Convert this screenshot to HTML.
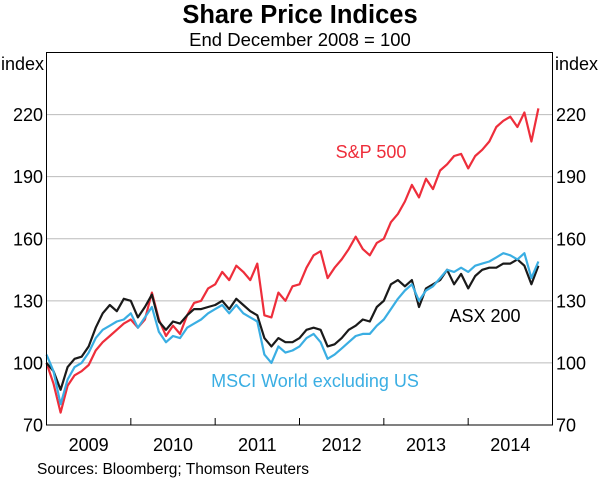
<!DOCTYPE html>
<html><head><meta charset="utf-8"><style>
body{margin:0;background:#fff;}
svg text{font-family:"Liberation Sans",Arial,sans-serif;}
</style></head><body>
<svg id="chart" width="600" height="479" viewBox="0 0 600 479" xmlns="http://www.w3.org/2000/svg">
<text x="300" y="23" text-anchor="middle" font-size="25.5" font-weight="bold">Share Price Indices</text>
<text x="300" y="46" text-anchor="middle" font-size="18.5">End December 2008 = 100</text>
<text x="1" y="70" font-size="18">index</text>
<text x="555" y="70" font-size="18">index</text>
<g id="grid"></g><g id="ticks"></g><g id="series"></g>
<rect x="46.5" y="52.5" width="506" height="372.5" fill="none" stroke="#000" stroke-width="1"/>
<text x="371" y="158" text-anchor="middle" font-size="18" fill="#ee2e3b">S&amp;P 500</text>
<text x="485" y="322" text-anchor="middle" font-size="18" fill="#000">ASX 200</text>
<text x="315" y="387" text-anchor="middle" font-size="18" fill="#3aaee3">MSCI World excluding US</text>
<text x="37" y="474" font-size="15.5">Sources:  Bloomberg; Thomson Reuters</text>
</svg>
<script>
const yTicks=[70,100,130,160,190,220];
const years=[2009,2010,2011,2012,2013,2014];
const sp500=[100,90,76,89,94,96,99,106,110,113,116,119,121,117,121,134,121,113,118,114,123,129,130,136,138,144,140,147,144,140,148,123,122,134,130,137,138,146,152,154,141,146,150,155,161,155,152,158,160,168,172,178,186,180,189,184,193,196,200,201,194,200,203,207,214,217,219,214,221,207,223];
const asx200=[100,96,87,98,102,103,108,117,124,128,125,131,130,122,127,133,120,116,120,119,123,126,126,127,128,130,126,131,128,125,123,112,108,112,110,110,112,116,117,116,108,109,112,116,118,121,120,127,130,138,140,137,140,127,136,138,140,145,138,143,136,142,145,146,146,148,148,150,147,138,147];
const msci=[104,96,80,92,98,100,105,112,116,118,120,121,124,117,122,127,115,110,113,112,117,119,121,124,126,128,124,128,124,122,120,104,100,108,105,106,108,112,114,110,102,104,107,110,113,114,114,118,121,126,131,135,138,130,135,137,141,145,144,146,144,147,148,149,151,153,152,150,153,141,149];
const X0=46.5,X1=552.5,Y0=425,Y1=52.5;
const xs=t=>X0+(t-2009)/6*(X1-X0);
const ys=v=>Y0-(v-70)/(250-70)*(Y0-Y1);
const NS="http://www.w3.org/2000/svg";
const grid=document.getElementById('grid'),ticks=document.getElementById('ticks'),ser=document.getElementById('series');
function mk(tag,attrs,parent){const e=document.createElementNS(NS,tag);for(const k in attrs)e.setAttribute(k,attrs[k]);parent.appendChild(e);return e;}
yTicks.forEach(v=>{
  const y=ys(v);
  if(v>70){const l=mk('line',{x1:X0,x2:X1,y1:y,y2:y,stroke:'#bbb','stroke-width':1},grid);
  
  }
  const a=mk('text',{x:43,y:y+6.5,'text-anchor':'end','font-size':18},ticks);a.textContent=v;
  
  
  const b=mk('text',{x:556,y:y+6.5,'font-size':18},ticks);b.textContent=v;
  
  
});
years.forEach(yr=>{
  if(yr>2009){const t=mk('line',{x1:xs(yr),x2:xs(yr),y1:Y0,y2:Y0-7,stroke:'#000'},ticks);
  
  }
  const l=mk('text',{x:xs(yr+0.5),y:451,'text-anchor':'middle','font-size':18},ticks);l.textContent=yr;
  
  
});
function line(data,color,name){
  const d=data.map((v,i)=>(i?'L':'M')+xs(2009+i/12).toFixed(1)+','+ys(v).toFixed(1)).join('');
  const p=mk('path',{d:d,fill:'none',stroke:color,'stroke-width':2.2,'stroke-linejoin':'round'},ser);
  
  
}
line(sp500,'#ee2e3b','sp500-line');
line(asx200,'#1a1a1a','asx200-line');
line(msci,'#3aaee3','msci-line');
</script>
</body></html>
